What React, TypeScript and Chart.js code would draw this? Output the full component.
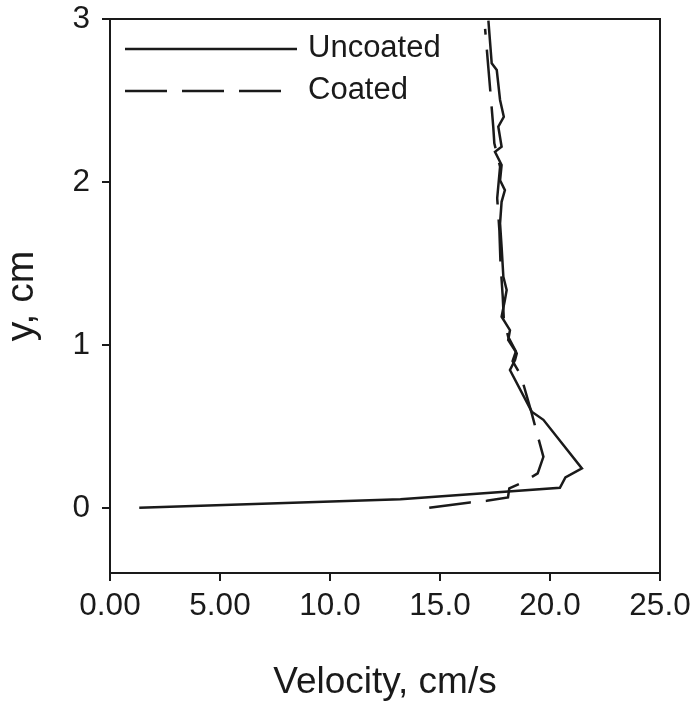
import React, { useEffect, useRef } from "react";
import { Chart, registerables } from "chart.js";

Chart.register(...registerables);

// Uncoated profile (velocity cm/s, height cm)
const uncoatedVelocity = [1.33, 13.2, 20.45, 20.7, 21.45, 19.7, 19.17, 18.18, 18.41, 18.49, 18.1, 18.18, 17.8, 17.95, 18.03, 17.88, 17.8, 17.73, 17.8, 17.95, 17.73, 17.8, 17.5, 17.8, 17.65, 17.9, 17.73, 17.58, 17.35, 17.2];
const uncoatedY = [0, 0.052, 0.123, 0.187, 0.242, 0.54, 0.59, 0.846, 0.907, 0.948, 1.03, 1.09, 1.173, 1.276, 1.337, 1.418, 1.602, 1.746, 1.878, 1.95, 2.01, 2.104, 2.185, 2.216, 2.339, 2.4, 2.503, 2.687, 2.728, 2.99];

// Coated profile
const coatedVelocity = [14.51, 16.36, 17.12, 18.09, 18.15, 18.67, 19.44, 19.7, 19.39, 19.17, 18.67, 18.3, 18.45, 18.1, 17.9, 17.85, 17.75, 17.7, 17.6, 17.73, 17.47, 17.42, 17.27, 17.2, 17.05];
const coatedY = [0, 0.033, 0.043, 0.064, 0.119, 0.15, 0.211, 0.313, 0.467, 0.58, 0.815, 0.9, 0.96, 1.05, 1.16, 1.3, 1.5, 1.7, 1.9, 2.093, 2.237, 2.339, 2.585, 2.697, 2.94];

const xTickValues = [0, 5, 10, 15, 20, 25];
const xTickLabels = ["0.00", "5.00", "10.0", "15.0", "20.0", "25.0"];
const yTickValues = [0, 1, 2, 3];
const yTickLabels = ["0", "1", "2", "3"];

const INK = "#1a1a1a";
const FONT = "'Liberation Sans', Arial, sans-serif";

const framePlugin = {
  id: "frame",
  afterDraw(chart: any) {
    const { ctx, chartArea } = chart;
    ctx.save();
    ctx.strokeStyle = INK;
    ctx.lineWidth = 2;
    ctx.strokeRect(chartArea.left, chartArea.top, chartArea.right - chartArea.left, chartArea.bottom - chartArea.top);
    ctx.restore();
  },
};

// Legend drawn inside the plot area, top-left, with real line samples
const insideLegendPlugin = {
  id: "insideLegend",
  afterDatasetsDraw(chart: any) {
    const { ctx, chartArea } = chart;
    ctx.save();
    chart.data.datasets.forEach((ds: any, i: number) => {
      const y = chartArea.top + 30 + i * 42;
      const x0 = chartArea.left + 15;
      const textX = x0 + 183;
      const x1 = x0 + (ds.borderDash ? 157 : 172);
      ctx.beginPath();
      ctx.strokeStyle = ds.borderColor;
      ctx.lineWidth = ds.borderWidth;
      ctx.setLineDash(ds.borderDash || []);
      ctx.moveTo(x0, y);
      ctx.lineTo(x1, y);
      ctx.stroke();
      ctx.setLineDash([]);
      ctx.fillStyle = INK;
      ctx.font = `31px ${FONT}`;
      ctx.textBaseline = "middle";
      ctx.textAlign = "left";
      ctx.fillText(ds.label, textX, y - 1);
    });
    ctx.restore();
  },
};

export default function App() {
  const ref = useRef<HTMLCanvasElement | null>(null);

  useEffect(() => {
    if (!ref.current) return;
    const toPts = (vs: number[], ys: number[]) => vs.map((v, i) => ({ x: v, y: ys[i] }));
    const chart = new Chart(ref.current, {
      type: "scatter",
      data: {
        datasets: [
          {
            label: "Uncoated",
            data: toPts(uncoatedVelocity, uncoatedY),
            showLine: true,
            borderColor: INK,
            backgroundColor: INK,
            borderWidth: 2.5,
            pointRadius: 0,
            pointHoverRadius: 0,
            tension: 0,
          },
          {
            label: "Coated",
            data: toPts(coatedVelocity, coatedY),
            showLine: true,
            borderColor: INK,
            backgroundColor: INK,
            borderWidth: 2.5,
            borderDash: [42, 15],
            pointRadius: 0,
            pointHoverRadius: 0,
            tension: 0,
          },
        ],
      },
      options: {
        animation: false,
        responsive: false,
        maintainAspectRatio: false,
        layout: { padding: { top: 19, right: 36, left: 0, bottom: 0 } },
        plugins: {
          tooltip: { enabled: false },
          legend: { display: false },
        },
        scales: {
          x: {
            type: "linear",
            min: 0,
            max: 25,
            afterFit: (s: any) => {
              s.height = 128;
              s.paddingLeft = 0;
              s.paddingRight = 0;
            },
            afterBuildTicks: (s: any) => {
              s.ticks = xTickValues.map((v) => ({ value: v }));
            },
            ticks: {
              color: INK,
              padding: 6,
              font: { family: FONT, size: 31.5 },
              callback: (v: any) => {
                const i = xTickValues.indexOf(Number(v));
                return i >= 0 ? xTickLabels[i] : "";
              },
            },
            grid: { drawOnChartArea: false, drawTicks: true, tickLength: 8, color: INK, lineWidth: 2 },
            border: { display: true, color: INK, width: 2 },
            title: {
              display: true,
              text: "Velocity, cm/s",
              color: INK,
              font: { family: FONT, size: 37, lineHeight: 1 },
              padding: { top: 0, bottom: 0 },
            },
          },
          y: {
            type: "linear",
            min: -0.4,
            max: 3,
            afterFit: (s: any) => {
              s.width = 110;
              s.paddingTop = 0;
              s.paddingBottom = 0;
            },
            afterBuildTicks: (s: any) => {
              s.ticks = yTickValues.map((v) => ({ value: v }));
            },
            ticks: {
              color: INK,
              padding: 12,
              font: { family: FONT, size: 31.5 },
              callback: (v: any) => {
                const i = yTickValues.indexOf(Number(v));
                return i >= 0 ? yTickLabels[i] : "";
              },
            },
            grid: { drawOnChartArea: false, drawTicks: true, tickLength: 8, color: INK, lineWidth: 2 },
            border: { display: true, color: INK, width: 2 },
            title: {
              display: true,
              text: "y, cm",
              color: INK,
              font: { family: FONT, size: 39, lineHeight: 1 },
              padding: { top: 3, bottom: 0 },
            },
          },
        },
      },
      plugins: [framePlugin, insideLegendPlugin],
    });
    return () => chart.destroy();
  }, []);

  return (
    <div style={{ position: "fixed", left: 0, top: 0, width: 696, height: 701, background: "#fff" }}>
      <canvas ref={ref} width={696} height={701} style={{ width: 696, height: 701, display: "block" }} />
    </div>
  );
}
